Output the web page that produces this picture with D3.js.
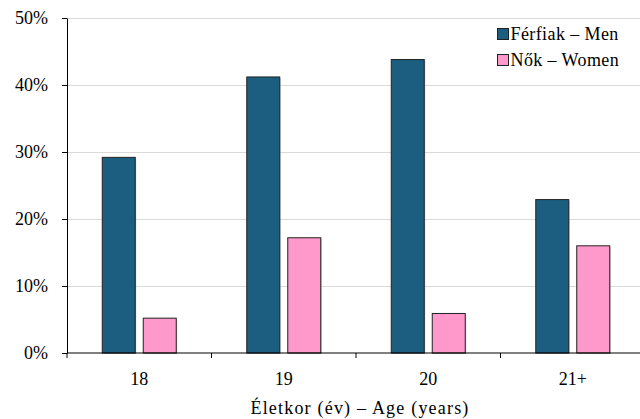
<!DOCTYPE html>
<html><head><meta charset="utf-8">
<script src="https://cdn.jsdelivr.net/npm/d3@7"></script>
<style>body{margin:0;background:#fff}svg{display:block}</style>
</head><body><div id="c"></div>
<script>
const categories = ["18", "19", "20", "21+"];
const seriesNames = ["Férfiak – Men", "Nők – Women"];
const menValues = [29.2, 41.2, 43.8, 22.9];
const womenValues = [5.2, 17.2, 5.9, 16.0];
const yTicks = [0, 10, 20, 30, 40, 50];
const xTitle = "Életkor (év) – Age (years)";
const colors = ["#1b5e80", "#ff99cc"];

const FONT = "'Liberation Serif', 'Times New Roman', serif";
const W = 640, H = 419;
const m = {left: 67, top: 18, right: -5, bottom: 66};
const svg = d3.select("#c").append("svg").attr("width", W).attr("height", H);
const x = d3.scaleBand().domain(categories).range([m.left, W - m.right]);
const y = d3.scaleLinear().domain([0, 50]).range([H - m.bottom, m.top]);
const inner = d3.scaleBand().domain([0, 1]).range([0, x.bandwidth()]).paddingInner(0.195).paddingOuter(0.86);

// gridlines
svg.append("g").selectAll("line").data(yTicks.filter(d => d > 0)).join("line")
  .attr("x1", m.left).attr("x2", W).attr("y1", d => Math.round(y(d)) + 0.5).attr("y2", d => Math.round(y(d)) + 0.5)
  .attr("stroke", "#d9d9d9").attr("stroke-width", 1);

const data = categories.map((c, i) => ({c, vals: [menValues[i], womenValues[i]]}));
const g = svg.append("g");
data.forEach(d => {
  d.vals.forEach((v, s) => {
    const bx = x(d.c) + inner(s), bw = inner.bandwidth();
    g.append("rect").attr("x", bx + 1).attr("y", y(v) + 1).attr("width", bw).attr("height", y(0) - y(v))
      .attr("fill", "#999").attr("opacity", 0.5);
    g.append("rect").attr("x", bx).attr("y", y(v)).attr("width", bw).attr("height", y(0) - y(v))
      .attr("fill", colors[s]).attr("stroke", "#222").attr("stroke-width", 1);
  });
});

// y axis
const ya = svg.append("g").attr("transform", `translate(${m.left},0)`)
  .call(d3.axisLeft(y).tickValues(yTicks).tickFormat(d => d + "%").tickSize(5).tickSizeOuter(0));
ya.select(".domain").attr("stroke", "#000");
ya.selectAll(".tick line").attr("stroke", "#000");
ya.selectAll("text").attr("x", -19).style("font-family", FONT).style("font-size", "18px").attr("fill", "#000");

// x axis
const xa = svg.append("g").attr("transform", `translate(0,${y(0)})`);
xa.append("line").attr("x1", m.left).attr("x2", W).attr("stroke", "#000");
const bounds = categories.map(c => x(c)).concat([x(categories[categories.length-1]) + x.bandwidth()]);
xa.selectAll("line.t").data(bounds).join("line").attr("class", "t")
  .attr("x1", d => d).attr("x2", d => d).attr("y1", 0).attr("y2", 5).attr("stroke", "#000");
xa.selectAll("text").data(categories).join("text")
  .attr("x", d => x(d) + x.bandwidth() / 2).attr("y", 32).attr("text-anchor", "middle")
  .style("font-family", FONT).style("font-size", "18px").text(d => d);

svg.append("text").attr("x", (m.left + W) / 2 + 6.5).attr("y", 414).attr("text-anchor", "middle")
  .style("font-family", FONT).style("font-size", "18px").style("letter-spacing", "1.2px").text(xTitle);

// legend
const lg = svg.append("g").attr("transform", "translate(497,0)");
seriesNames.forEach((n, i) => {
  const cy = 34 + i * 26;
  lg.append("rect").attr("x", 0.5).attr("y", cy - 5.5).attr("width", 11).attr("height", 11)
    .attr("fill", colors[i]).attr("stroke", "#222");
  lg.append("text").attr("x", 13.5).attr("y", cy + 5.5)
    .style("font-family", FONT).style("font-size", "18px").style("letter-spacing", "0.4px").text(n);
});
</script></body></html>
